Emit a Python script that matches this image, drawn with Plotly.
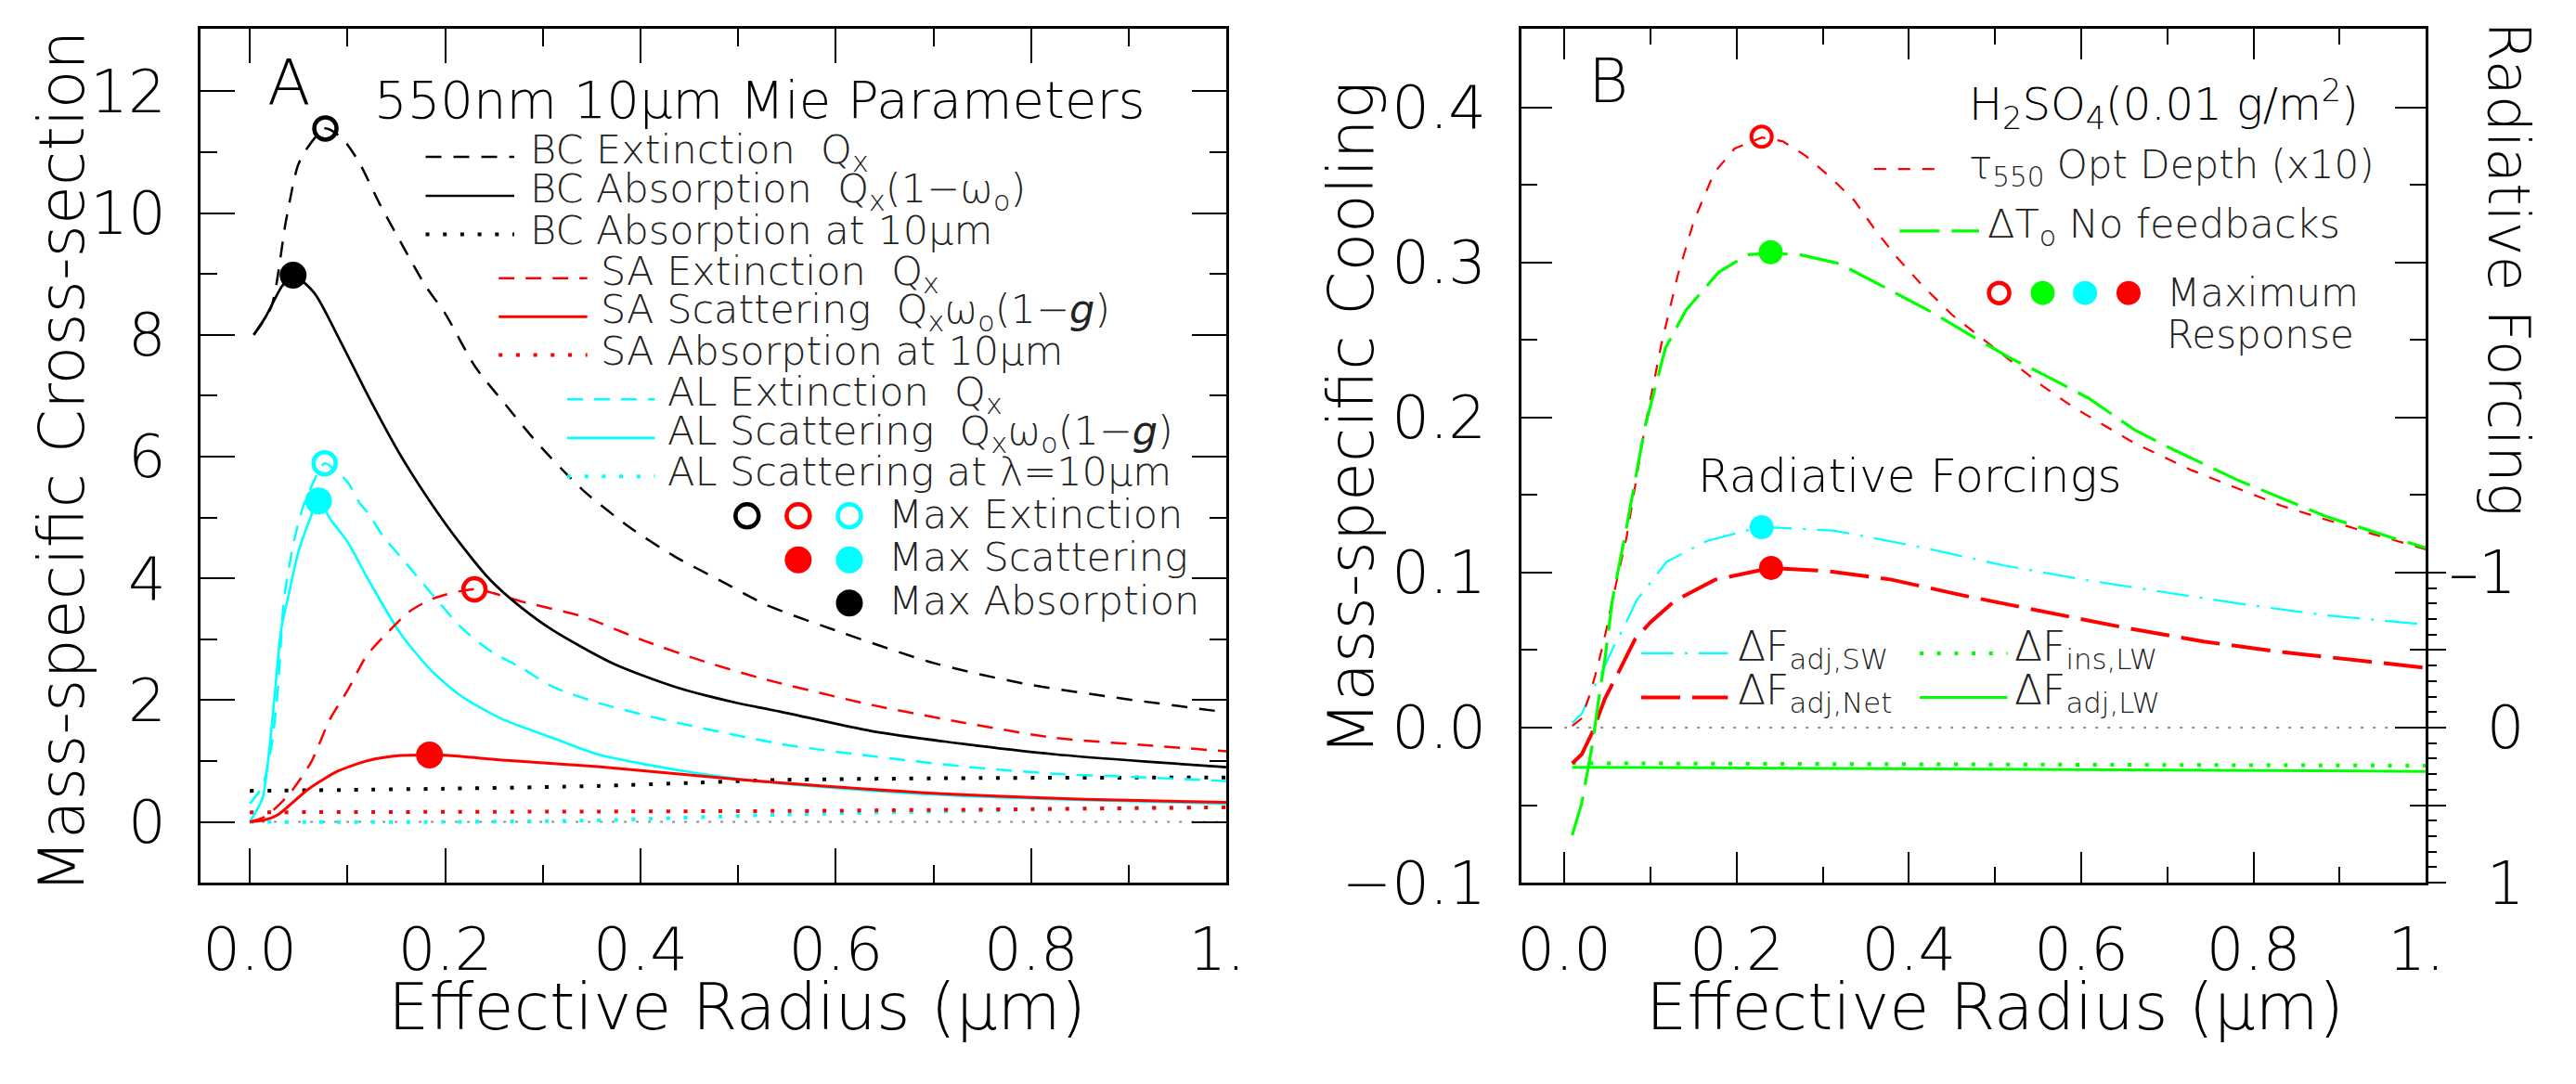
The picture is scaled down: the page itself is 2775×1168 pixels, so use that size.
import plotly.graph_objects as go

W, H = 2775, 1168
FONT = "DejaVu Sans"
FW = 200

# ---------------- Panel A data (Mie parameters) ----------------
a_bc_ext_x = [0.004, 0.022, 0.037, 0.049, 0.058, 0.077, 0.095, 0.112, 0.133, 0.158, 0.18, 0.2, 0.231, 0.263, 0.294, 0.341, 0.388, 0.435, 0.481, 0.528, 0.606, 0.7, 0.793, 0.887, 1.0]
a_bc_ext_y = [8.0, 8.46, 9.87, 10.77, 11.05, 11.39, 11.22, 10.83, 10.15, 9.42, 8.8, 8.35, 7.47, 6.83, 6.23, 5.45, 4.85, 4.36, 3.97, 3.57, 3.11, 2.61, 2.27, 2.04, 1.80]

a_bc_abs_x = [0.004, 0.016, 0.033, 0.044, 0.066, 0.091, 0.122, 0.154, 0.185, 0.216, 0.247, 0.278, 0.31, 0.372, 0.435, 0.497, 0.5435, 0.637, 0.731, 0.824, 0.918, 1.0]
a_bc_abs_y = [8.0, 8.29, 8.8, 8.98, 8.69, 7.95, 6.97, 6.03, 5.25, 4.56, 3.96, 3.52, 3.15, 2.6, 2.22, 1.96, 1.81, 1.49, 1.28, 1.11, 0.99, 0.90]

a_bc_abs10_x = [0.0, 0.2, 0.356, 0.45, 0.5435, 0.75, 1.0]
a_bc_abs10_y = [0.51, 0.545, 0.59, 0.64, 0.69, 0.72, 0.73]

a_sa_ext_x = [0.0, 0.015, 0.03, 0.0444, 0.0631, 0.0818, 0.1005, 0.1192, 0.138, 0.163, 0.188, 0.23, 0.278, 0.341, 0.403, 0.466, 0.528, 0.637, 0.731, 0.824, 0.918, 1.0]
a_sa_ext_y = [0.0, 0.08, 0.28, 0.54, 0.99, 1.68, 2.17, 2.72, 3.06, 3.45, 3.67, 3.82, 3.62, 3.37, 2.98, 2.63, 2.34, 1.92, 1.63, 1.38, 1.26, 1.16]

a_sa_sca_x = [0.0, 0.015, 0.029, 0.06, 0.091, 0.122, 0.154, 0.184, 0.2, 0.263, 0.356, 0.45, 0.5435, 0.7, 0.856, 1.0]
a_sa_sca_y = [0.0, 0.03, 0.12, 0.54, 0.84, 1.01, 1.09, 1.10, 1.094, 1.01, 0.91, 0.77, 0.64, 0.47, 0.37, 0.32]

a_sa_abs10_x = [0.0, 0.356, 0.55, 0.8, 1.0]
a_sa_abs10_y = [0.158, 0.17, 0.18, 0.21, 0.24]

a_al_ext_x = [0.0, 0.013, 0.0225, 0.0287, 0.035, 0.045, 0.055, 0.066, 0.0766, 0.0996, 0.112, 0.122, 0.137, 0.154, 0.185, 0.216, 0.247, 0.278, 0.31, 0.356, 0.418, 0.5435, 0.637, 0.731, 0.824, 0.918, 1.0]
a_al_ext_y = [0.30, 0.59, 1.28, 2.17, 3.65, 4.6, 5.2, 5.61, 5.89, 5.59, 5.25, 5.05, 4.68, 4.36, 3.77, 3.2, 2.8, 2.53, 2.22, 1.96, 1.70, 1.28, 1.08, 0.91, 0.79, 0.73, 0.67]

a_al_sca_x = [0.0, 0.013, 0.019, 0.026, 0.032, 0.04, 0.05, 0.06, 0.0703, 0.083, 0.1, 0.122, 0.154, 0.185, 0.216, 0.257, 0.31, 0.356, 0.45, 0.5435, 0.7, 0.85, 1.0]
a_al_sca_y = [0.0, 0.39, 1.04, 2.17, 3.15, 3.75, 4.45, 4.91, 5.27, 4.96, 4.6, 3.96, 3.1, 2.5, 2.07, 1.70, 1.38, 1.11, 0.82, 0.63, 0.45, 0.36, 0.30]

a_al_sca10_x = [0.0, 0.2, 0.356, 0.5435, 0.7, 0.856, 1.0]
a_al_sca10_y = [0.0, 0.0, 0.025, 0.12, 0.17, 0.22, 0.24]

# maxima markers
a_max_ext_x = [0.0774, 0.230, 0.0766]        # BC, SA, AL (open)
a_max_ext_y = [11.39, 3.82, 5.89]
a_max_sca_x = [0.184, 0.0703]                # SA, AL (filled)
a_max_sca_y = [1.10, 5.27]
a_max_abs_x = [0.0443]                       # BC (filled)
a_max_abs_y = [8.98]

# ---------------- Panel B data (H2SO4 response) ----------------
b_tau_x = [0.0092, 0.0202, 0.029, 0.036, 0.043, 0.0487, 0.0558, 0.0723, 0.0936, 0.1126, 0.1315, 0.1504, 0.1741, 0.1977, 0.2294, 0.2537, 0.2802, 0.3085, 0.3368, 0.3615, 0.3862, 0.4145, 0.4498, 0.4852, 0.5205, 0.5558, 0.5911, 0.6264, 0.6618, 0.728, 0.8325, 0.9373, 1.0]
b_tau_y = [0.0012, 0.0060, 0.0205, 0.0340, 0.0494, 0.063, 0.0822, 0.1228, 0.1938, 0.247, 0.2913, 0.3268, 0.3579, 0.3734, 0.3805, 0.378, 0.3687, 0.355, 0.3397, 0.3204, 0.3031, 0.2857, 0.2663, 0.2509, 0.2355, 0.22, 0.2065, 0.1949, 0.1834, 0.166, 0.143, 0.125, 0.115]

b_dt_x = [0.0092, 0.0202, 0.0257, 0.0328, 0.04, 0.047, 0.0558, 0.0723, 0.0936, 0.1174, 0.141, 0.179, 0.2131, 0.2394, 0.2731, 0.3191, 0.3721, 0.425, 0.478, 0.5205, 0.5558, 0.6088, 0.6618, 0.7042, 0.78, 0.8849, 0.9635, 1.0]
b_dt_y = [-0.0693, -0.0487, -0.032, -0.0104, 0.0186, 0.0436, 0.0822, 0.1295, 0.1938, 0.2448, 0.269, 0.2936, 0.305, 0.3058, 0.305, 0.2992, 0.2838, 0.2683, 0.2509, 0.2374, 0.2278, 0.2123, 0.192, 0.180, 0.160, 0.136, 0.122, 0.116]

b_sw_x = [0.0092, 0.0202, 0.0328, 0.0452, 0.058, 0.072, 0.084, 0.119, 0.166, 0.229, 0.314, 0.417, 0.51, 0.603, 0.696, 0.789, 0.882, 1.0]
b_sw_y = [0.0031, 0.009, 0.0243, 0.0378, 0.053, 0.068, 0.0822, 0.107, 0.1205, 0.1295, 0.127, 0.116, 0.1046, 0.0954, 0.0874, 0.0795, 0.0726, 0.0665]

b_net_x = [0.0092, 0.0202, 0.0328, 0.047, 0.0648, 0.082, 0.1, 0.128, 0.175, 0.24, 0.305, 0.38, 0.463, 0.556, 0.649, 0.742, 0.835, 1.0]
b_net_y = [-0.023, -0.0172, -0.0027, 0.0186, 0.0378, 0.057, 0.068, 0.0817, 0.0954, 0.103, 0.101, 0.0954, 0.0852, 0.0749, 0.0646, 0.0555, 0.0486, 0.0386]

b_inslw_x = [0.0092, 0.5, 1.0]
b_inslw_y = [-0.0229, -0.0237, -0.0245]
b_adjlw_x = [0.0092, 0.5, 1.0]
b_adjlw_y = [-0.0255, -0.027, -0.0282]

b_max_tau = (0.229, 0.381)
b_max_dt = (0.2395, 0.3065)
b_max_sw = (0.229, 0.1292)
b_max_net = (0.240, 0.103)

# ---------------- ticks ----------------
X_TICKS = [0.0, 0.2, 0.4, 0.6, 0.8, 1.0]
X_TICKTEXT = ["0.0", "0.2", "0.4", "0.6", "0.8", "1.\u00a0"]
X_MINOR = [0.1, 0.3, 0.5, 0.7, 0.9]
A_Y_TICKS = [0, 2, 4, 6, 8, 10, 12]
A_Y_MINOR = [1, 3, 5, 7, 9, 11]
B_Y_TICKS = [-0.1, 0.0, 0.1, 0.2, 0.3, 0.4]
B_Y_TICKTEXT = ["\u22120.1", "0.0", "0.1", "0.2", "0.3", "0.4"]
B_Y_MINOR = [-0.05, 0.05, 0.15, 0.25, 0.35]
RF_TICKS = [-1, -0.5, 0, 0.5, 1]
RF_TICKTEXT = ["\u20131", "", "\u00a0\u00a00", "", "\u00a0\u00a01"]
RF_MINOR = [-0.9, -0.8, -0.7, -0.6, -0.4, -0.3, -0.2, -0.1, 0.1, 0.2, 0.3, 0.4, 0.6, 0.7, 0.8, 0.9]

# ---------------- styles ----------------
RED, CYAN, GREEN, BLACK = "#ff0000", "#00ffff", "#00ff00", "#000000"
DOT = "4px,14.7px"
STY = {
    "bc_ext": dict(color=BLACK, dash="17px,13px", width=2.5),
    "bc_abs": dict(color=BLACK, dash="solid", width=2.7),
    "bc_abs10": dict(color=BLACK, dash=DOT, width=4),
    "sa_ext": dict(color=RED, dash="17px,12px", width=2.5),
    "sa_sca": dict(color=RED, dash="solid", width=3),
    "sa_abs10": dict(color=RED, dash=DOT, width=4),
    "al_ext": dict(color=CYAN, dash="17px,12px", width=2.5),
    "al_sca": dict(color=CYAN, dash="solid", width=2.6),
    "al_sca10": dict(color=CYAN, dash=DOT, width=4),
    "tau": dict(color=RED, dash="13px,13px", width=2.2),
    "dt": dict(color=GREEN, dash="43px,13px", width=3.2),
    "sw": dict(color=CYAN, dash="35px,12px,3px,12px", width=2.2),
    "net": dict(color=RED, dash="42px,13px", width=4),
    "inslw": dict(color=GREEN, dash=DOT, width=4),
    "adjlw": dict(color=GREEN, dash="solid", width=3),
}

fig = go.Figure()


def px(X):
    return X / W


def py(Y):
    return 1 - Y / H


def add_curve(x, y, key, xa, ya, shape):
    s = STY[key]
    fig.add_trace(go.Scatter(x=x, y=y, mode="lines", xaxis=xa, yaxis=ya, showlegend=False,
                             hoverinfo="skip",
                             line=dict(color=s["color"], dash=s["dash"], width=s["width"],
                                       shape=shape, smoothing=0.7)))


# zero reference lines
for xa, ya in (("x", "y"), ("x2", "y2")):
    fig.add_shape(type="line", xref=xa, yref=ya, x0=0, x1=1, y0=0, y1=0,
                  line=dict(color="#8c8c8c", width=2, dash="3px,10px"), layer="below")

# panel A curves
for x, y, k in [(a_al_sca10_x, a_al_sca10_y, "al_sca10"), (a_sa_abs10_x, a_sa_abs10_y, "sa_abs10"),
                (a_bc_abs10_x, a_bc_abs10_y, "bc_abs10"), (a_al_ext_x, a_al_ext_y, "al_ext"),
                (a_al_sca_x, a_al_sca_y, "al_sca"), (a_sa_ext_x, a_sa_ext_y, "sa_ext"),
                (a_sa_sca_x, a_sa_sca_y, "sa_sca"), (a_bc_ext_x, a_bc_ext_y, "bc_ext"),
                (a_bc_abs_x, a_bc_abs_y, "bc_abs")]:
    add_curve(x, y, k, "x", "y", "spline")

# panel B curves
for x, y, k in [(b_inslw_x, b_inslw_y, "inslw"), (b_adjlw_x, b_adjlw_y, "adjlw"),
                (b_sw_x, b_sw_y, "sw"), (b_net_x, b_net_y, "net"),
                (b_tau_x, b_tau_y, "tau"), (b_dt_x, b_dt_y, "dt")]:
    add_curve(x, y, k, "x2", "y2", "linear")

# markers panel A
fig.add_trace(go.Scatter(x=a_max_ext_x, y=a_max_ext_y, mode="markers", xaxis="x", yaxis="y",
                         showlegend=False, hoverinfo="skip",
                         marker=dict(symbol="circle-open", size=24,
                                     color=[BLACK, RED, CYAN], line=dict(width=4.5, color=[BLACK, RED, CYAN]))))
fig.add_trace(go.Scatter(x=a_max_sca_x, y=a_max_sca_y, mode="markers", xaxis="x", yaxis="y",
                         showlegend=False, hoverinfo="skip",
                         marker=dict(symbol="circle", size=29, color=[RED, CYAN], line=dict(width=0))))
fig.add_trace(go.Scatter(x=a_max_abs_x, y=a_max_abs_y, mode="markers", xaxis="x", yaxis="y",
                         showlegend=False, hoverinfo="skip",
                         marker=dict(symbol="circle", size=29, color=BLACK, line=dict(width=0))))
# markers panel B
fig.add_trace(go.Scatter(x=[b_max_tau[0]], y=[b_max_tau[1]], mode="markers", xaxis="x2", yaxis="y2",
                         showlegend=False, hoverinfo="skip",
                         marker=dict(symbol="circle-open", size=22, color=RED, line=dict(width=4, color=RED))))
fig.add_trace(go.Scatter(x=[b_max_dt[0], b_max_sw[0], b_max_net[0]], y=[b_max_dt[1], b_max_sw[1], b_max_net[1]],
                         mode="markers", xaxis="x2", yaxis="y2", showlegend=False, hoverinfo="skip",
                         marker=dict(symbol="circle", size=26, color=[GREEN, CYAN, RED], line=dict(width=0))))

# ---------------- axes ----------------
tickfont = dict(family=FONT, size=64, color="black", weight=FW)
common = dict(showline=True, linecolor="black", linewidth=3, mirror="ticks", ticks="inside",
              tickwidth=2, tickcolor="black", showgrid=False, zeroline=False, tickfont=tickfont,
              tickmode="array")
YDOM = [py(982.3), py(32.5)]
fig.update_layout(
    xaxis=dict(domain=[px(216), px(1339)], range=[-0.05, 1.0], anchor="y", ticklen=37,
               tickvals=X_TICKS, ticktext=X_TICKTEXT, ticklabelstandoff=14,
               minor=dict(tickvals=X_MINOR, ticks="inside", ticklen=19, tickwidth=2, tickcolor="black"),
               **common),
    yaxis=dict(domain=YDOM, range=[-1, 13.02], anchor="x", ticklen=37,
               tickvals=A_Y_TICKS, ticktext=[str(v) for v in A_Y_TICKS], ticklabelstandoff=22,
               minor=dict(tickvals=A_Y_MINOR, ticks="inside", ticklen=18, tickwidth=2, tickcolor="black"),
               **common),
    xaxis2=dict(domain=[px(1661.7), px(2652.3)], range=[-0.05, 1.0], anchor="y2", ticklen=33,
                tickvals=X_TICKS, ticktext=X_TICKTEXT, ticklabelstandoff=14,
                minor=dict(tickvals=X_MINOR, ticks="inside", ticklen=17, tickwidth=2, tickcolor="black"),
                **common),
    yaxis2=dict(domain=YDOM, range=[-0.1, 0.4503], anchor="x2", ticklen=33,
                tickvals=B_Y_TICKS, ticktext=B_Y_TICKTEXT, ticklabelstandoff=22,
                minor=dict(tickvals=B_Y_MINOR, ticks="inside", ticklen=17, tickwidth=2, tickcolor="black"),
                **common),
    yaxis3=dict(domain=YDOM, range=[1.0, -4.503], anchor="x2", overlaying="y2", side="right",
                showline=False, showgrid=False, zeroline=False, ticks="outside", ticklen=21,
                tickwidth=2, tickcolor="black", tickmode="array", tickvals=RF_TICKS,
                ticktext=RF_TICKTEXT, tickfont=tickfont, ticklabelstandoff=-10,
                minor=dict(tickvals=RF_MINOR, ticks="outside", ticklen=11, tickwidth=2, tickcolor="black")),
)
# invisible trace so the right axis is drawn
fig.add_trace(go.Scatter(x=[0.5], y=[0], xaxis="x2", yaxis="y3", mode="markers",
                         marker=dict(opacity=0), showlegend=False, hoverinfo="skip"))

# ---------------- annotations / legend ----------------
ann = []


def text(X, Y, s, size, xanchor="left", angle=0, color="#222", yanchor="middle"):
    ann.append(dict(x=px(X), y=py(Y), xref="paper", yref="paper", text=s, showarrow=False,
                    xanchor=xanchor, yanchor=yanchor, textangle=angle,
                    font=dict(family=FONT, size=size, color=color, weight=FW)))


shapes = []


def sample(X0, X1, Y, key):
    s = STY[key]
    shapes.append(dict(type="line", xref="paper", yref="paper", x0=px(X0), x1=px(X1), y0=py(Y), y1=py(Y),
                       line=dict(color=s["color"], dash=s["dash"], width=s["width"])))


def dot(X, Y, color, filled, d):
    r = d / 2
    shapes.append(dict(type="circle", xref="paper", yref="paper", xsizemode="pixel", ysizemode="pixel",
                       xanchor=px(X), yanchor=py(Y), x0=-r, x1=r, y0=-r, y1=r,
                       fillcolor=color if filled else "rgba(0,0,0,0)",
                       line=dict(color=color, width=0 if filled else 4.5)))


NB = "\u00a0"
# Panel A texts
text(313, 92, "A", 68, xanchor="center", color="black")
text(828, 111, "550nm 10\u03bcm Mie Parameters", 56, xanchor="center", color="black")
A_LEG = [
    (462, 559, 574, 174.6, "bc_ext", "BC Extinction" + NB * 2 + "Q<sub>x</sub>"),
    (462, 559, 574, 217.9, "bc_abs", "BC Absorption" + NB * 2 + "Q<sub>x</sub>(1\u2212\u03c9<sub>o</sub>)"),
    (462, 559, 574, 260.8, "bc_abs10", "BC Absorption at 10\u03bcm"),
    (542, 639, 652, 309.5, "sa_ext", "SA Extinction" + NB * 2 + "Q<sub>x</sub>"),
    (542, 639, 652, 352.3, "sa_sca", "SA Scattering" + NB * 2 + "Q<sub>x</sub>\u03c9<sub>o</sub>(1\u2212<i>g</i>)"),
    (542, 639, 652, 395.0, "sa_abs10", "SA Absorption at 10\u03bcm"),
    (617, 713, 725, 444.3, "al_ext", "AL Extinction" + NB * 2 + "Q<sub>x</sub>"),
    (617, 713, 725, 487.3, "al_sca", "AL Scattering" + NB * 2 + "Q<sub>x</sub>\u03c9<sub>o</sub>(1\u2212<i>g</i>)"),
    (617, 713, 725, 530.0, "al_sca10", "AL Scattering at \u03bb=10\u03bcm"),
]
for X0, X1, XT, Y, k, s in A_LEG:
    sample(X0, X1, Y, k)
    text(XT, Y - 5, s, 43)
for X, Y, c, f in [(814, 574, BLACK, False), (870, 574, RED, False), (926, 574, CYAN, False),
                   (870, 623, RED, True), (926, 623, CYAN, True), (926, 671, BLACK, True)]:
    dot(X, Y, c, f, 29 if f else 25)
text(967, 572, "Max Extinction", 43)
text(967, 620, "Max Scattering", 43)
text(967, 668, "Max Absorption", 43)
text(64, 514, "Mass-specific Cross-section", 68, xanchor="center", angle=-90, color="black")
text(803, 1121, "Effective Radius (\u03bcm)", 70, xanchor="center", color="black")

# Panel B texts
text(1757, 90, "B", 66, xanchor="center", color="black")
text(2150, 116, "H<sub>2</sub>SO<sub>4</sub>(0.01 g/m<sup>2</sup>)", 48, color="black")
sample(2048, 2122, 188, "tau")
text(2150, 186, "\u03c4<sub>550</sub> Opt Depth (x10)", 42)
sample(2076, 2163, 257, "dt")
text(2170, 252, "\u0394T<sub>o</sub> No feedbacks", 43)
for X, c, f in [(2185, RED, False), (2232.7, GREEN, True), (2279, CYAN, True), (2326.7, RED, True)]:
    dot(X, 326, c, f, 26 if f else 22)
text(2366, 326, "Maximum", 42)
text(2366, 372, "Response", 42)
text(1853, 530, "Radiative Forcings", 50, color="black")
sample(1793, 1888, 727, "sw")
sample(1793, 1888, 776, "net")
sample(2098, 2194, 727, "inslw")
sample(2098, 2194, 776, "adjlw")
text(1897, 722, "\u0394F<sub>adj,SW</sub>", 44)
text(1897, 771, "\u0394F<sub>adj,Net</sub>", 44)
text(2200, 722, "\u0394F<sub>ins,LW</sub>", 44)
text(2200, 771, "\u0394F<sub>adj,LW</sub>", 44)
text(1475, 466, "Mass-specific Cooling", 68, xanchor="center", angle=-90, color="black")
text(2180, 1121, "Effective Radius (\u03bcm)", 70, xanchor="center", color="black")
text(2743, 299, "Radiative Forcing", 62, xanchor="center", angle=90, color="black")

fig.update_layout(width=W, height=H, margin=dict(l=0, r=0, t=0, b=0),
                  paper_bgcolor="white", plot_bgcolor="white",
                  annotations=ann, shapes=list(fig.layout.shapes) + shapes,
                  showlegend=False)

fig.write_html("out.html")
